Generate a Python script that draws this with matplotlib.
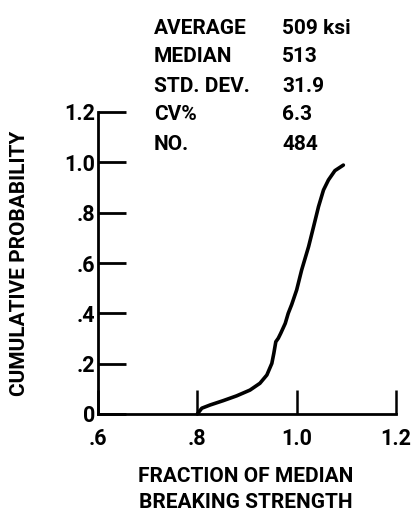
import matplotlib
matplotlib.use("Agg")
import matplotlib.pyplot as plt

plt.rcParams['font.family'] = ['Roboto', 'DejaVu Sans']
plt.rcParams['font.weight'] = 'bold'

# Data
fraction = [0.800, 0.809, 0.826, 0.852, 0.879, 0.906, 0.926, 0.940, 0.950,
            0.954, 0.958, 0.963, 0.968, 0.971, 0.977, 0.983, 0.990, 1.000,
            1.010, 1.024, 1.034, 1.044, 1.054, 1.064, 1.077, 1.094]
cum_prob = [0.000, 0.023, 0.036, 0.053, 0.072, 0.095, 0.122, 0.155, 0.201,
            0.241, 0.287, 0.301, 0.321, 0.334, 0.360, 0.400, 0.435, 0.493,
            0.572, 0.665, 0.744, 0.824, 0.890, 0.930, 0.967, 0.989]

x_ticks = [0.6, 0.8, 1.0, 1.2]
x_tick_labels = ['.6', '.8', '1.0', '1.2']
y_ticks = [0.0, 0.2, 0.4, 0.6, 0.8, 1.0, 1.2]
y_tick_labels = ['0', '.2', '.4', '.6', '.8', '1.0', '1.2']

stat_names = ['AVERAGE', 'MEDIAN', 'STD. DEV.', 'CV%', 'NO.']
stat_values = ['509 ksi', '513', '31.9', '6.3', '484']

W, H = 418, 514
fig = plt.figure(figsize=(W / 100, H / 100), dpi=100)
fig.patch.set_facecolor('white')

left, right, bottom, top = 98, 396, 414, 112
ax = fig.add_axes([left / W, 1 - bottom / H, (right - left) / W, (bottom - top) / H])
ax.set_xlim(0.6, 1.2)
ax.set_ylim(0.0, 1.2)
ax.patch.set_alpha(0)

ax.plot(fraction, cum_prob, color='black', lw=2.6, solid_capstyle='round',
        solid_joinstyle='round', clip_on=False)

for s in ['top', 'right']:
    ax.spines[s].set_visible(False)
for s in ['left', 'bottom']:
    ax.spines[s].set_linewidth(2.0)

FS = 15
ax.set_xticks(x_ticks)
ax.set_xticklabels(x_tick_labels)
ax.set_yticks(y_ticks)
ax.set_yticklabels(y_tick_labels)
ax.tick_params(axis='y', direction='in', length=20, width=2.0, pad=2, labelsize=FS + 0.5)
ax.tick_params(axis='x', direction='in', length=17, width=1.8, pad=10, labelsize=FS + 0.5)

fig.text(20 / W, 1 - 263 / H, 'CUMULATIVE PROBABILITY', rotation=90,
         ha='center', va='center', fontsize=FS)
fig.text(246 / W, 1 - 482 / H, 'FRACTION OF MEDIAN', ha='center', va='baseline', fontsize=FS)
fig.text(246 / W, 1 - 508 / H, 'BREAKING STRENGTH', ha='center', va='baseline', fontsize=FS)

baselines = [33.5, 62.5, 91.5, 120.5, 149.5]
for name, val, b in zip(stat_names, stat_values, baselines):
    fig.text(154 / W, 1 - b / H, name, ha='left', va='baseline', fontsize=FS)
    fig.text(282 / W, 1 - b / H, val, ha='left', va='baseline', fontsize=FS)

fig.savefig('out.png', dpi=100, facecolor='white')
